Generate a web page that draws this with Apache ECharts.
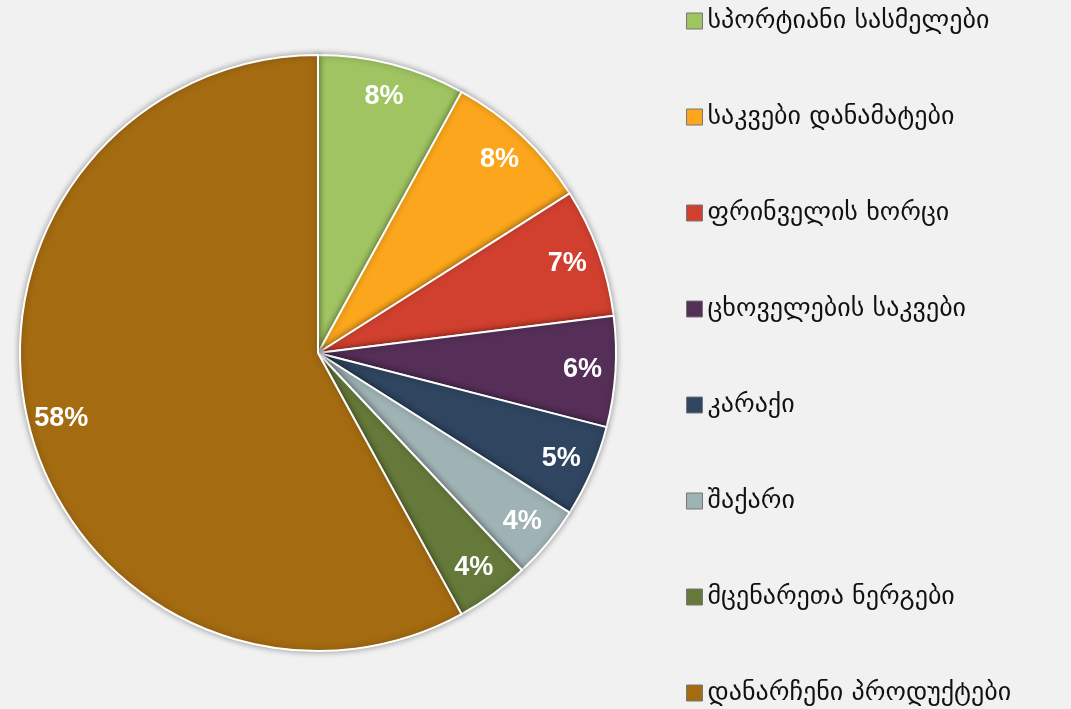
<!DOCTYPE html>
<html>
<head>
<meta charset="utf-8">
<script src="https://cdn.jsdelivr.net/npm/echarts@6/dist/echarts.min.js"></script>
<style>
  html, body { margin: 0; padding: 0; background: #f1f1f1; }
  #chart { width: 1071px; height: 709px; }
</style>
</head>
<body>
<div id="chart"></div>
<script>
// კატეგორიები და წილები (%)
var names = ['სპორტიანი სასმელები', 'საკვები დანამატები', 'ფრინველის ხორცი', 'ცხოველების საკვები',
             'კარაქი', 'შაქარი', 'მცენარეთა ნერგები', 'დანარჩენი პროდუქტები'];
var values = [8, 8, 7, 6, 5, 4, 4, 58];
var colors = ['#a0c462', '#fba61c', '#d1402f', '#552f58', '#2f4560', '#9fb2b4', '#65793a', '#a46b11'];

var chart = echarts.init(document.getElementById('chart'));

var data = names.map(function (n, i) {
    return { name: n, value: values[i], itemStyle: { color: colors[i] } };
});

var option = {
    backgroundColor: '#f1f1f1',
    animation: false,
    legend: {
        orient: 'vertical',
        left: 686,
        top: 8,
        height: 701,
        padding: 0,
        itemWidth: 16,
        itemHeight: 16,
        itemGap: 70,
        icon: 'rect',
        itemStyle: { borderColor: '#777', borderWidth: 1 },
        textStyle: { fontFamily: 'DejaVu Sans', fontSize: 26, lineHeight: 24, color: '#111' },
        data: names
    },
    series: [
        {
            // ძირითადი წრე
            type: 'pie',
            center: [318, 353],
            radius: [0, 298],
            startAngle: 90,
            silent: true,
            label: { show: false },
            labelLine: { show: false },
            itemStyle: {
                borderColor: '#ffffff',
                borderWidth: 2,
                shadowBlur: 6,
                shadowColor: 'rgba(0,0,0,0.35)'
            },
            data: data
        },
        {
            // გამჭვირვალე რგოლი მხოლოდ წარწერებისთვის
            type: 'pie',
            center: [318, 353],
            radius: [226, 298],
            startAngle: 90,
            silent: true,
            itemStyle: { color: 'rgba(0,0,0,0)', borderWidth: 0 },
            label: {
                show: true,
                position: 'inside',
                formatter: '{c}%',
                color: '#fff',
                fontFamily: 'Liberation Sans',
                fontWeight: 'bold',
                fontSize: 27
            },
            labelLine: { show: false },
            data: names.map(function (n, i) { return { name: n, value: values[i] }; })
        }
    ]
};

chart.setOption(option);
</script>
</body>
</html>
